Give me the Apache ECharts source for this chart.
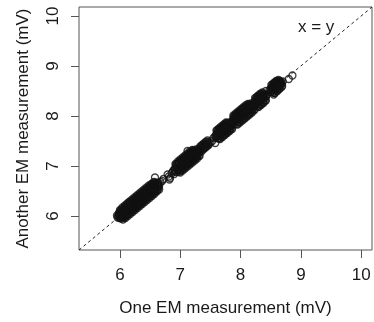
<!DOCTYPE html>
<html>
<head>
<meta charset="utf-8">
<script src="https://cdn.jsdelivr.net/npm/echarts@6/dist/echarts.min.js"></script>
<style>
html,body{margin:0;padding:0;background:#fff;}
#c{width:374px;height:322px;}
</style>
</head>
<body>
<div id="c"></div>
<script>
// Axis ticks and limits
const tickValues = [6, 7, 8, 9, 10];
const axisMin = 5.32;
const axisMax = 10.18;
const xTitle = 'One EM measurement (mV)';
const yTitle = 'Another EM measurement (mV)';
const refLabel = 'x = y';
const refLine = [[5.32, 5.32], [10.18, 10.18]];

const segA = [[5.95,6.01],[5.96,5.97],[5.98,6.05],[5.99,5.96],[6.00,6.03],[6.01,5.97],[6.02,6.08],[6.03,5.99],[6.05,6.06],[6.06,5.98],[6.07,6.11],[6.08,6.01],[6.10,6.14],[6.11,6.04],[6.12,6.09],[6.14,6.10],[6.15,6.27],[6.16,6.19],[6.17,6.12],[6.19,6.22],[6.20,6.14],[6.22,6.26],[6.23,6.18],[6.25,6.31],[6.26,6.21],[6.28,6.32],[6.29,6.24],[6.31,6.36],[6.32,6.27],[6.34,6.40],[6.35,6.29],[6.37,6.43],[6.38,6.33],[6.40,6.46],[6.41,6.36],[6.43,6.49],[6.44,6.39],[6.46,6.52],[6.47,6.42],[6.49,6.55],[6.50,6.45],[6.52,6.58],[6.53,6.48],[6.55,6.61],[6.56,6.51],[6.58,6.62],[6.59,6.54],[6.61,6.64],[6.62,6.57],[6.64,6.66],[6.65,6.60],[6.67,6.68]];
const segAUp = [[5.99,6.07],[6.03,6.12],[6.07,6.15],[6.11,6.19],[6.15,6.23],[6.19,6.28],[6.23,6.32],[6.27,6.36],[6.31,6.40],[6.35,6.44],[6.39,6.48],[6.43,6.52],[6.47,6.56],[6.51,6.60],[6.55,6.64],[6.59,6.67]];
const segAUp2 = [[6.00,6.12],[6.04,6.17],[6.08,6.21],[6.12,6.25],[6.16,6.29],[6.20,6.33],[6.24,6.37],[6.28,6.41],[6.32,6.45],[6.36,6.49],[6.40,6.53],[6.44,6.57],[6.48,6.61],[6.52,6.64],[6.56,6.68]];
const segALow = [[6.02,5.95],[6.06,5.97],[6.10,6.01],[6.14,6.05],[6.18,6.09],[6.22,6.13],[6.26,6.17],[6.30,6.21],[6.34,6.25],[6.38,6.29],[6.42,6.33],[6.46,6.37],[6.50,6.41],[6.54,6.45],[6.58,6.49],[6.62,6.54]];
const segALow2 = [[6.05,5.93],[6.09,5.96],[6.13,6.00],[6.17,6.04],[6.21,6.08],[6.25,6.12],[6.29,6.16],[6.33,6.20],[6.37,6.24],[6.41,6.28],[6.45,6.32],[6.49,6.36],[6.53,6.40],[6.57,6.44],[6.61,6.49],[6.65,6.53]];
const segAMid = [[5.97,6.00],[6.01,6.02],[6.04,6.05],[6.09,6.08],[6.13,6.14],[6.18,6.17],[6.21,6.22],[6.24,6.24],[6.27,6.28],[6.33,6.33],[6.36,6.37],[6.42,6.42],[6.45,6.46],[6.48,6.48],[6.54,6.55],[6.57,6.57],[6.63,6.62]];
const segAQ1 = [[5.98,6.01],[6.02,6.05],[6.06,6.09],[6.10,6.13],[6.14,6.17],[6.18,6.21],[6.22,6.25],[6.26,6.29],[6.30,6.33],[6.34,6.37],[6.38,6.41],[6.42,6.45],[6.46,6.49],[6.50,6.53],[6.54,6.57],[6.58,6.61],[6.62,6.65]];
const segAQ2 = [[6.00,5.97],[6.04,6.01],[6.08,6.05],[6.12,6.09],[6.16,6.13],[6.20,6.17],[6.24,6.21],[6.28,6.25],[6.32,6.29],[6.36,6.33],[6.40,6.37],[6.44,6.41],[6.48,6.45],[6.52,6.49],[6.56,6.53],[6.60,6.57],[6.64,6.61]];
const segAQ3 = [[6.01,6.11],[6.05,6.15],[6.09,6.19],[6.13,6.23],[6.17,6.27],[6.21,6.31],[6.25,6.35],[6.29,6.39],[6.33,6.43],[6.37,6.47],[6.41,6.51],[6.45,6.55],[6.49,6.59],[6.53,6.63],[6.57,6.66]];
const segAQ4 = [[6.07,5.97],[6.11,6.01],[6.15,6.05],[6.19,6.09],[6.23,6.13],[6.27,6.17],[6.31,6.21],[6.35,6.25],[6.39,6.29],[6.43,6.33],[6.47,6.37],[6.51,6.41],[6.55,6.45],[6.59,6.49],[6.63,6.53]];
const segGap = [[6.58,6.77],[6.70,6.70],[6.72,6.74],[6.79,6.83],[6.81,6.79],[6.83,6.76],[6.82,6.73],[6.86,6.86]];
const segB = [[6.88,6.90],[6.90,6.84],[6.92,6.97],[6.93,6.88],[6.95,7.02],[6.96,6.92],[6.98,7.05],[6.99,6.94],[7.01,7.08],[7.02,6.97],[7.04,7.11],[7.05,7.00],[7.07,7.14],[7.08,7.03],[7.10,7.17],[7.11,7.05],[7.12,7.30],[7.13,7.19],[7.14,7.08],[7.16,7.22],[7.17,7.11],[7.19,7.25],[7.20,7.14],[7.22,7.27],[7.23,7.17],[7.25,7.29],[7.26,7.20],[7.28,7.31],[7.29,7.24],[7.31,7.33]];
const segBUp = [[6.94,7.03],[6.98,7.07],[7.02,7.11],[7.06,7.15],[7.10,7.19],[7.14,7.23],[7.18,7.27],[7.22,7.30],[7.26,7.33]];
const segBUp2 = [[6.92,7.04],[6.96,7.09],[7.00,7.13],[7.04,7.17],[7.08,7.21],[7.12,7.25],[7.16,7.29],[7.20,7.32]];
const segBLow = [[6.97,6.89],[7.01,6.92],[7.05,6.96],[7.09,7.00],[7.13,7.04],[7.17,7.08],[7.21,7.12],[7.25,7.16],[7.29,7.21]];
const segBLow2 = [[7.00,6.87],[7.04,6.91],[7.08,6.95],[7.12,6.99],[7.16,7.03],[7.20,7.07],[7.24,7.11],[7.28,7.15],[7.32,7.20]];
const segBMid = [[6.91,6.92],[6.97,6.98],[7.03,7.03],[7.06,7.07],[7.09,7.09],[7.15,7.15],[7.18,7.18],[7.21,7.21],[7.24,7.24],[7.27,7.27],[7.30,7.29]];
const segBQ1 = [[6.90,6.93],[6.94,6.97],[6.98,7.01],[7.02,7.05],[7.06,7.09],[7.10,7.13],[7.14,7.17],[7.18,7.21],[7.22,7.25],[7.26,7.29],[7.30,7.33]];
const segBQ2 = [[6.92,6.89],[6.96,6.93],[7.00,6.97],[7.04,7.01],[7.08,7.05],[7.12,7.09],[7.16,7.13],[7.20,7.17],[7.24,7.21],[7.28,7.25],[7.32,7.29]];
const segBQ3 = [[6.93,7.03],[6.97,7.07],[7.01,7.11],[7.05,7.15],[7.09,7.19],[7.13,7.23],[7.17,7.27],[7.21,7.31]];
const segBQ4 = [[6.99,6.89],[7.03,6.93],[7.07,6.97],[7.11,7.01],[7.15,7.05],[7.19,7.09],[7.23,7.13],[7.27,7.17],[7.31,7.21]];
const segB2 = [[7.33,7.36],[7.35,7.32],[7.37,7.41],[7.39,7.36],[7.41,7.44],[7.43,7.40],[7.45,7.48],[7.47,7.44],[7.53,7.50],[7.58,7.46],[7.55,7.56],[7.34,7.34],[7.38,7.38],[7.42,7.42],[7.46,7.46]];
const segB2Fill = [[7.33,7.39],[7.36,7.42],[7.39,7.45],[7.42,7.48],[7.45,7.51],[7.35,7.29],[7.38,7.33],[7.41,7.36],[7.44,7.39],[7.47,7.42],[7.50,7.47]];
const segC = [[7.58,7.60],[7.60,7.57],[7.61,7.65],[7.63,7.60],[7.64,7.69],[7.66,7.63],[7.67,7.72],[7.69,7.66],[7.70,7.75],[7.72,7.69],[7.73,7.77],[7.75,7.71],[7.76,7.80],[7.78,7.74],[7.79,7.84],[7.81,7.78],[7.82,7.87],[7.84,7.80],[7.86,7.83],[7.87,7.82]];
const segCUp = [[7.62,7.69],[7.66,7.73],[7.70,7.77],[7.74,7.81],[7.78,7.85]];
const segCUp2 = [[7.60,7.71],[7.64,7.75],[7.68,7.79],[7.72,7.83],[7.76,7.87]];
const segCLow = [[7.63,7.55],[7.67,7.59],[7.71,7.63],[7.75,7.67],[7.79,7.71],[7.83,7.75]];
const segCLow2 = [[7.66,7.54],[7.70,7.58],[7.74,7.62],[7.78,7.66],[7.82,7.70],[7.86,7.74]];
const segCMid = [[7.59,7.59],[7.62,7.62],[7.65,7.66],[7.68,7.68],[7.71,7.72],[7.74,7.74],[7.77,7.77],[7.80,7.81],[7.83,7.83]];
const segCQ1 = [[7.60,7.63],[7.64,7.67],[7.68,7.71],[7.72,7.75],[7.76,7.79],[7.80,7.83],[7.84,7.86]];
const segCQ2 = [[7.62,7.59],[7.66,7.63],[7.70,7.67],[7.74,7.71],[7.78,7.75],[7.82,7.79],[7.86,7.82]];
const segCQ3 = [[7.61,7.71],[7.65,7.75],[7.69,7.79],[7.73,7.83],[7.77,7.86]];
const segCQ4 = [[7.65,7.55],[7.69,7.59],[7.73,7.63],[7.77,7.67],[7.81,7.71],[7.85,7.75]];
const segD = [[7.87,7.93],[7.88,7.88],[7.90,7.97],[7.91,7.91],[7.93,8.00],[7.94,7.94],[7.96,8.03],[7.97,7.96],[7.99,8.05],[8.00,7.99],[8.02,8.08],[8.03,8.02],[8.05,8.11],[8.06,8.05],[8.08,8.14],[8.09,8.08],[8.11,8.17],[8.12,8.10],[8.14,8.19],[8.15,8.12],[8.17,8.21],[8.18,8.15],[8.20,8.22],[8.21,8.18]];
const segDUp = [[7.89,7.99],[7.93,8.03],[7.97,8.07],[8.01,8.11],[8.05,8.15],[8.09,8.18],[8.13,8.22],[8.17,8.25]];
const segDUp2 = [[7.88,8.01],[7.92,8.05],[7.96,8.09],[8.00,8.13],[8.04,8.17],[8.08,8.21],[8.12,8.24]];
const segDLow = [[7.92,7.85],[7.96,7.89],[8.00,7.93],[8.04,7.97],[8.08,8.01],[8.12,8.05],[8.16,8.09],[8.20,8.13]];
const segDLow2 = [[7.95,7.83],[7.99,7.87],[8.03,7.91],[8.07,7.95],[8.11,7.99],[8.15,8.03],[8.19,8.07],[8.23,8.12]];
const segDMid = [[7.89,7.90],[7.92,7.93],[7.95,7.96],[7.98,7.99],[8.01,8.02],[8.04,8.05],[8.07,8.07],[8.10,8.11],[8.13,8.14],[8.16,8.17],[8.19,8.20]];
const segDQ1 = [[7.88,7.91],[7.92,7.95],[7.96,7.99],[8.00,8.03],[8.04,8.07],[8.08,8.11],[8.12,8.15],[8.16,8.19],[8.20,8.23]];
const segDQ2 = [[7.90,7.87],[7.94,7.91],[7.98,7.95],[8.02,7.99],[8.06,8.03],[8.10,8.07],[8.14,8.11],[8.18,8.15],[8.22,8.19]];
const segDQ3 = [[7.90,8.00],[7.94,8.04],[7.98,8.08],[8.02,8.12],[8.06,8.16],[8.10,8.20],[8.14,8.23]];
const segDQ4 = [[7.94,7.84],[7.98,7.88],[8.02,7.92],[8.06,7.96],[8.10,8.00],[8.14,8.04],[8.18,8.08],[8.22,8.12]];
const segE = [[8.23,8.28],[8.24,8.22],[8.26,8.32],[8.27,8.26],[8.29,8.35],[8.30,8.29],[8.32,8.38],[8.33,8.32],[8.35,8.40],[8.36,8.35],[8.38,8.42],[8.39,8.37],[8.42,8.50],[8.42,8.40],[8.44,8.43]];
const segEUp = [[8.25,8.33],[8.29,8.38],[8.33,8.42],[8.37,8.45]];
const segEUp2 = [[8.24,8.36],[8.28,8.40],[8.32,8.44],[8.36,8.47]];
const segELow = [[8.27,8.20],[8.31,8.24],[8.35,8.28],[8.39,8.32]];
const segELow2 = [[8.30,8.18],[8.34,8.22],[8.38,8.26],[8.42,8.31]];
const segEMid = [[8.25,8.25],[8.28,8.29],[8.31,8.32],[8.34,8.35],[8.37,8.38],[8.40,8.41]];
const segEQ1 = [[8.24,8.27],[8.28,8.31],[8.32,8.35],[8.36,8.39],[8.40,8.43]];
const segEQ2 = [[8.26,8.23],[8.30,8.27],[8.34,8.31],[8.38,8.35],[8.42,8.39]];
const segEQ3 = [[8.26,8.36],[8.30,8.40],[8.34,8.44]];
const segEQ4 = [[8.29,8.19],[8.33,8.23],[8.37,8.27],[8.41,8.31]];
const segF = [[8.48,8.52],[8.50,8.48],[8.51,8.56],[8.53,8.51],[8.55,8.43],[8.54,8.59],[8.56,8.54],[8.57,8.61],[8.59,8.57],[8.60,8.64],[8.62,8.60],[8.63,8.66],[8.65,8.62],[8.66,8.68],[8.68,8.65],[8.70,8.69],[8.80,8.74],[8.86,8.81]];
const segFUp = [[8.52,8.59],[8.56,8.63],[8.60,8.67],[8.64,8.70]];
const segFUp2 = [[8.51,8.62],[8.55,8.66],[8.59,8.70],[8.63,8.72]];
const segFLow = [[8.54,8.47],[8.58,8.52],[8.62,8.56],[8.66,8.61]];
const segFLow2 = [[8.57,8.46],[8.61,8.50],[8.65,8.55],[8.69,8.60]];
const segFMid = [[8.52,8.53],[8.55,8.56],[8.58,8.59],[8.61,8.62],[8.64,8.65],[8.67,8.67]];
const segFQ1 = [[8.50,8.53],[8.54,8.57],[8.58,8.61],[8.62,8.65],[8.66,8.69]];
const segFQ2 = [[8.52,8.49],[8.56,8.53],[8.60,8.57],[8.64,8.61],[8.68,8.65]];
const segFQ3 = [[8.53,8.63],[8.57,8.67],[8.61,8.70]];
const segFQ4 = [[8.56,8.46],[8.60,8.50],[8.64,8.54],[8.68,8.58]];

const points = [].concat(
  segA, segAUp, segAUp2, segALow, segALow2, segAMid, segAQ1, segAQ2, segAQ3, segAQ4, segGap,
  segB, segBUp, segBUp2, segBLow, segBLow2, segBMid, segBQ1, segBQ2, segBQ3, segBQ4, segB2, segB2Fill,
  segC, segCUp, segCUp2, segCLow, segCLow2, segCMid, segCQ1, segCQ2, segCQ3, segCQ4,
  segD, segDUp, segDUp2, segDLow, segDLow2, segDMid, segDQ1, segDQ2, segDQ3, segDQ4,
  segE, segEUp, segEUp2, segELow, segELow2, segEMid, segEQ1, segEQ2, segEQ3, segEQ4,
  segF, segFUp, segFUp2, segFLow, segFLow2, segFMid, segFQ1, segFQ2, segFQ3, segFQ4
);

const FONT = '"Liberation Sans", Arial, Helvetica, sans-serif';
const TXT = '#1a1a1a';
const LINE = '#555';

const chart = echarts.init(document.getElementById('c'), null, {renderer: 'canvas'});
chart.setOption({
  animation: false,
  backgroundColor: '#fff',
  grid: {left: 79, right: 2, top: 7, bottom: 70, show: true, borderColor: LINE, borderWidth: 1, backgroundColor: 'transparent'},
  xAxis: {
    type: 'value', min: axisMin, max: axisMax,
    name: xTitle, nameLocation: 'middle', nameGap: 50,
    nameTextStyle: {fontFamily: FONT, fontSize: 17, color: TXT},
    axisLine: {show: false},
    axisTick: {show: true, length: 8, inside: false, lineStyle: {color: LINE, width: 1}, customValues: tickValues},
    axisLabel: {fontFamily: FONT, fontSize: 17, color: TXT, margin: 17, customValues: tickValues, showMinLabel: true, showMaxLabel: true},
    splitLine: {show: false}
  },
  yAxis: {
    type: 'value', min: axisMin, max: axisMax,
    name: yTitle, nameLocation: 'middle', nameGap: 47, nameRotate: 90,
    nameTextStyle: {fontFamily: FONT, fontSize: 17, color: TXT},
    axisLine: {show: false},
    axisTick: {show: true, length: 8, inside: false, lineStyle: {color: LINE, width: 1}, customValues: tickValues},
    axisLabel: {fontFamily: FONT, fontSize: 17, color: TXT, margin: 17, rotate: 90, customValues: tickValues},
    splitLine: {show: false}
  },
  series: [
    {
      type: 'line', data: refLine, symbol: 'none', silent: true, z: 1,
      lineStyle: {color: '#222', width: 1, type: [3, 3]}
    },
    {
      type: 'scatter', data: points, symbol: 'circle', symbolSize: 7, z: 2, silent: true,
      itemStyle: {color: 'rgba(0,0,0,0)', borderColor: '#111', borderWidth: 1.3}
    }
  ],
  graphic: [{
    type: 'text', left: 298, top: 19, silent: true,
    style: {text: refLabel, fontFamily: FONT, fontSize: 17, fill: TXT}
  }]
});
</script>
</body>
</html>
